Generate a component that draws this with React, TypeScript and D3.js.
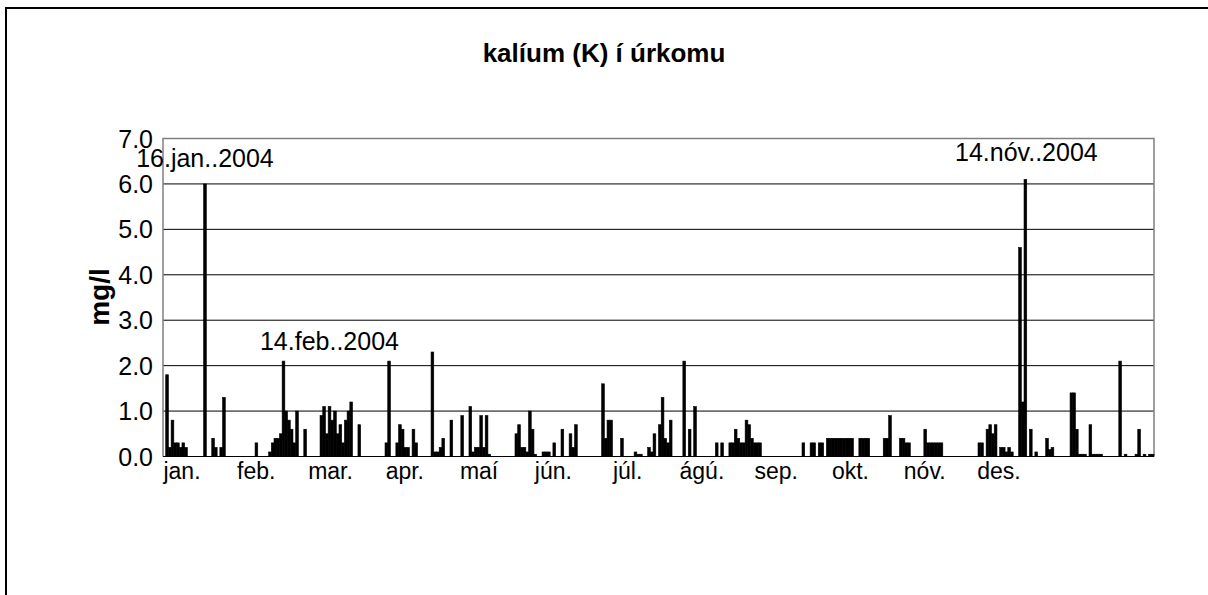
import React from "react";
import * as d3 from "d3";

// Day-of-year (0 = 1 Jan 2004) of each sample and its potassium value (mg/l)
const sampleDay: number[] = [
  1, 2, 3, 4, 5, 6, 7, 8, 15, 18, 19, 21, 22, 34,
  39, 40, 41, 42, 43, 44, 45, 46, 47, 48, 49, 52,
  58, 59, 60, 61, 62, 63, 64, 65, 66, 67, 68, 69, 72,
  82, 83, 86, 87, 88, 89, 90, 92, 93,
  99, 100, 101, 102, 103, 106, 110, 113, 114, 115, 116, 117, 118, 119, 120,
  130, 131, 132, 133, 134, 135, 136, 137, 140, 141, 142, 144, 147, 150, 151, 152,
  162, 163, 164, 165, 169, 174, 175, 176, 179, 180, 181, 183, 184, 185, 186, 187,
  192, 194, 196, 204, 206, 209, 210, 211, 212, 213, 214, 215, 216, 217, 218, 219, 220,
  236, 239, 240, 242, 243, 245, 246, 247, 248, 249, 250, 251, 252, 253, 254,
  257, 258, 259, 260, 266, 267, 268, 272, 273, 274, 275,
  281, 282, 283, 284, 285, 286, 287,
  301, 302, 304, 305, 306, 307, 309, 310, 311, 312, 313, 316, 317, 318,
  320, 322, 326, 327, 328, 335, 336, 337, 338, 339, 340, 342, 343, 344, 345, 346,
  353, 355, 359, 360, 362, 364, 365,
];
const potassium: number[] = [
  1.8, 0.2, 0.8, 0.3, 0.3, 0.2, 0.3, 0.2, 6.0, 0.4, 0.2, 0.2, 1.3, 0.3,
  0.1, 0.3, 0.4, 0.4, 0.5, 2.1, 1.0, 0.8, 0.6, 0.3, 1.0, 0.6,
  0.9, 1.1, 0.5, 1.1, 0.8, 1.0, 0.5, 0.7, 0.3, 0.8, 1.0, 1.2, 0.7,
  0.3, 2.1, 0.3, 0.7, 0.6, 0.2, 0.2, 0.6, 0.3,
  2.3, 0.1, 0.1, 0.2, 0.4, 0.8, 0.9, 1.1, 0.1, 0.2, 0.2, 0.9, 0.2, 0.9, 0.05,
  0.5, 0.7, 0.2, 0.2, 0.1, 1.0, 0.6, 0.05, 0.1, 0.1, 0.1, 0.3, 0.6, 0.5, 0.2, 0.7,
  1.6, 0.4, 0.8, 0.8, 0.4, 0.1, 0.05, 0.05, 0.2, 0.1, 0.5, 0.7, 1.3, 0.4, 0.3, 0.8,
  2.1, 0.6, 1.1, 0.3, 0.3, 0.3, 0.3, 0.6, 0.4, 0.3, 0.3, 0.8, 0.7, 0.4, 0.3, 0.3, 0.3,
  0.3, 0.3, 0.3, 0.3, 0.3, 0.4, 0.4, 0.4, 0.4, 0.4, 0.4, 0.4, 0.4, 0.4, 0.4,
  0.4, 0.4, 0.4, 0.4, 0.4, 0.4, 0.9, 0.4, 0.4, 0.3, 0.3,
  0.6, 0.3, 0.3, 0.3, 0.3, 0.3, 0.3,
  0.3, 0.3, 0.6, 0.7, 0.5, 0.7, 0.2, 0.2, 0.1, 0.2, 0.1, 4.6, 1.2, 6.1,
  0.6, 0.1, 0.4, 0.15, 0.2, 1.4, 1.4, 0.6, 0.05, 0.05, 0.05, 0.7, 0.05, 0.05, 0.05, 0.05,
  2.1, 0.05, 0.05, 0.6, 0.05, 0.05, 0.05,
];

const monthLabels: string[] = ["jan.", "feb.", "mar.", "apr.", "maí", "jún.", "júl.", "ágú.", "sep.", "okt.", "nóv.", "des."];
const yTicks: number[] = [0, 1, 2, 3, 4, 5, 6, 7];

const peakDays: number[] = [15, 44, 318];
const peakLabels: string[] = ["16.jan..2004", "14.feb..2004", "14.nóv..2004"];

const title = "kalíum (K) í úrkomu";
const yTitle = "mg/l";

// layout
const W = 1208, H = 595;
const plot = { left: 163, right: 1154, top: 138.5, bottom: 456.5 };
const peakOffset = [
  { dx: 0, dy: -17 },
  { dx: 46, dy: -11 },
  { dx: 1, dy: -18 },
];
const FONT = "Liberation Sans, Arial, sans-serif";

export default function App() {
  const x = d3.scaleBand<number>().domain(d3.range(366)).range([plot.left, plot.right]).paddingInner(0).paddingOuter(0);
  const y = d3.scaleLinear().domain([0, 7]).range([plot.bottom, plot.top]);
  const xm = d3.scalePoint<string>().domain(monthLabels).range([182, 999]);
  const fmt = d3.format(".1f");

  return (
    <svg width={W} height={H} style={{ position: "absolute", left: 0, top: 0, background: "#fff" }} fontFamily={FONT}>
      <rect x={0} y={0} width={W} height={H} fill="#fff" />
      <rect x={6} y={8} width={1220} height={620} fill="none" stroke="#000" strokeWidth={2} />
      <text x={604} y={62} textAnchor="middle" fontWeight="bold" fontSize={26}>{title}</text>

      {/* gridlines */}
      {yTicks.filter((t) => t > 0 && t < 7).map((t) => (
        <line key={t} x1={plot.left} x2={plot.right} y1={y(t)} y2={y(t)} stroke="#000" strokeWidth={1} />
      ))}
      {/* plot frame */}
      <path
        d={`M${plot.left},${plot.bottom} V${plot.top} H${plot.right} V${plot.bottom}`}
        fill="none"
        stroke="#808080"
        strokeWidth={1.5}
      />

      {/* bars */}
      {sampleDay.map((d, i) => (
        <rect
          key={d}
          x={x(d)!}
          width={x.bandwidth()}
          y={y(potassium[i])}
          height={plot.bottom - y(potassium[i])}
          fill="#000"
          stroke="#000"
          strokeWidth={0.6}
        />
      ))}

      <line x1={plot.left} x2={plot.right} y1={plot.bottom} y2={plot.bottom} stroke="#000" strokeWidth={1} />

      {/* y tick labels */}
      {yTicks.map((t) => (
        <text key={t} x={153} y={y(t) + 9} textAnchor="end" fontSize={25}>{fmt(t)}</text>
      ))}
      <text transform={`translate(109,297) rotate(-90)`} textAnchor="middle" fontWeight="bold" fontSize={28}>{yTitle}</text>

      {/* month labels */}
      {monthLabels.map((m) => (
        <text key={m} x={xm(m)} y={479} textAnchor="middle" fontSize={23}>{m}</text>
      ))}

      {/* peak annotations */}
      {peakDays.map((d, i) => {
        const v = potassium[sampleDay.indexOf(d)];
        return (
          <text
            key={d}
            x={x(d)! + x.bandwidth() / 2 + peakOffset[i].dx}
            y={y(v) + peakOffset[i].dy}
            textAnchor="middle"
            fontSize={25}
          >
            {peakLabels[i]}
          </text>
        );
      })}
    </svg>
  );
}
